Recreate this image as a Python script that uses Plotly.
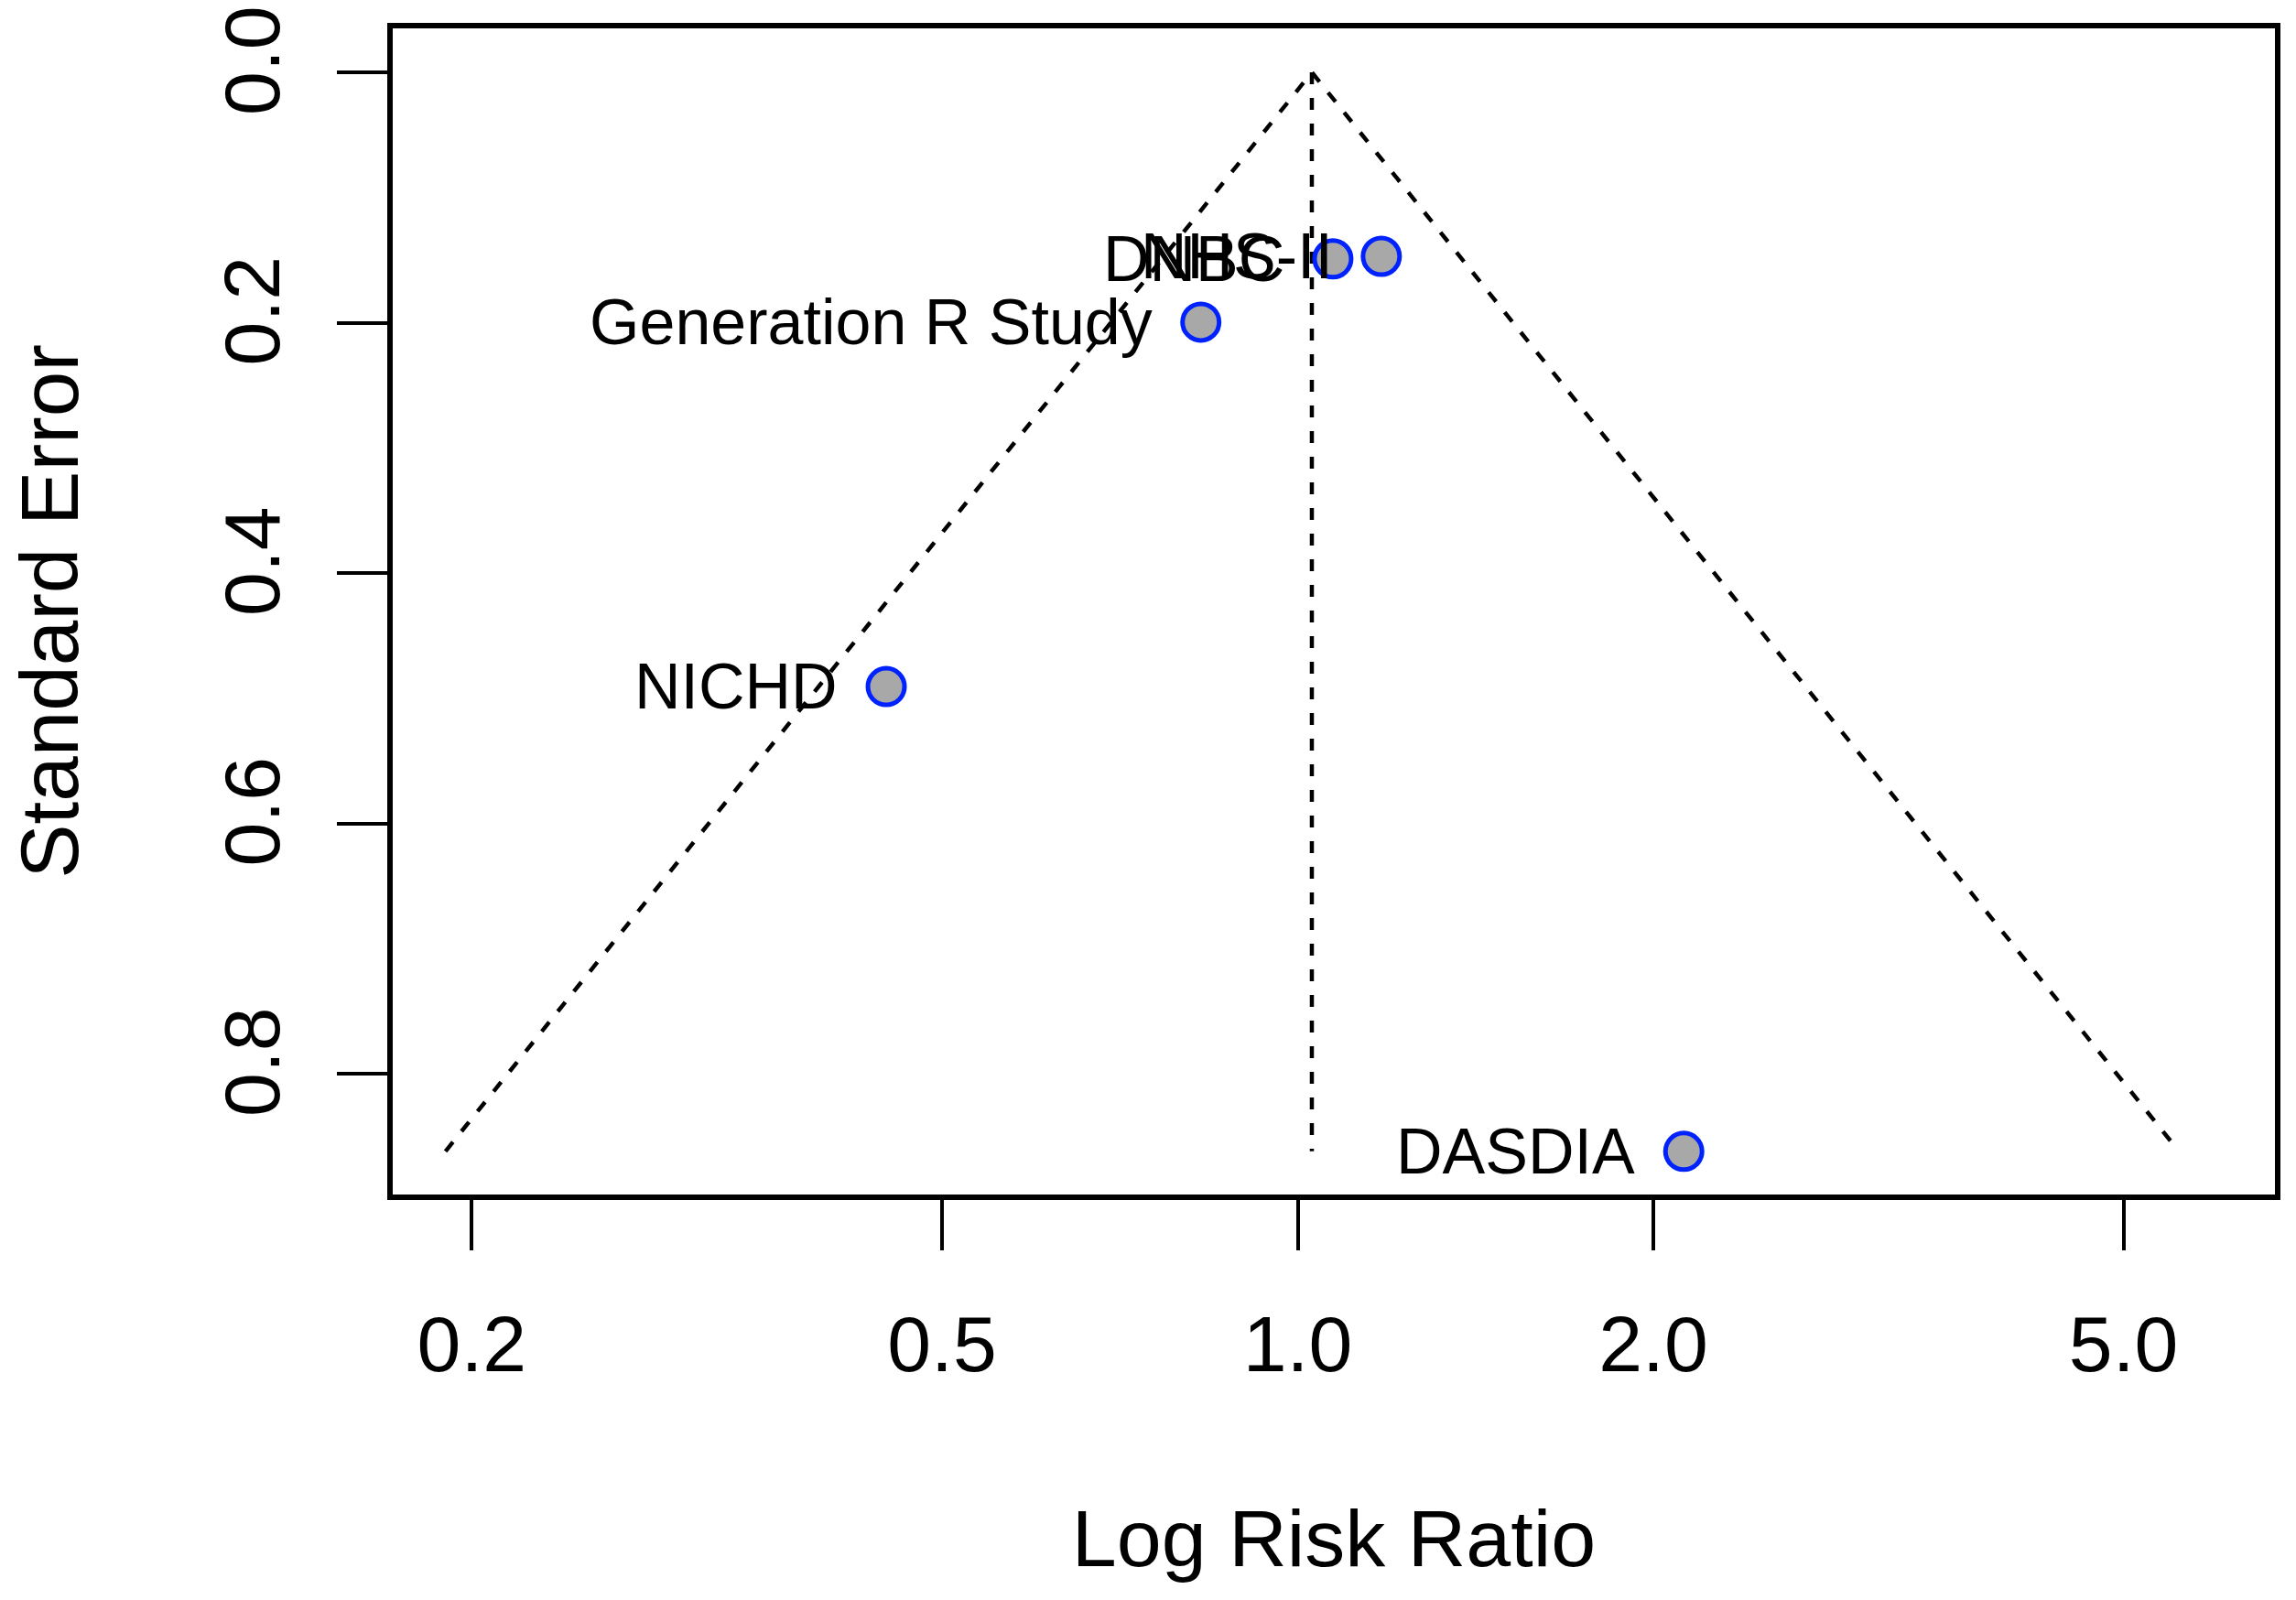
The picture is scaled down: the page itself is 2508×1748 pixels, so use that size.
import math
import plotly.graph_objects as go

# Study data
studies = ["DNBC", "NHS-II", "Generation R Study", "NICHD", "DASDIA"]
risk_ratio = [1.071, 1.177, 0.828, 0.4485, 2.122]
std_error = [0.149, 0.147, 0.1996, 0.4907, 0.862]

# Funnel (pseudo-confidence region) corners
funnel_rr = [0.190, 1.028, 5.57]
funnel_se = [0.862, 0.0, 0.862]
center_rr = [1.028, 1.028]
center_se = [0.0, 0.862]

x_tick_vals = [0.2, 0.5, 1.0, 2.0, 5.0]
x_tick_text = ["0.2", "0.5", "1.0", "2.0", "5.0"]
y_tick_vals = [0.0, 0.2, 0.4, 0.6, 0.8]
y_tick_text = ["0.0", "0.2", "0.4", "0.6", "0.8"]

FONT = "Liberation Sans, Arial, Helvetica, sans-serif"

fig = go.Figure()

fig.add_trace(go.Scatter(
    x=funnel_rr, y=funnel_se, mode="lines",
    line=dict(color="black", width=4.5, dash="13px,15px"),
    hoverinfo="skip", showlegend=False))
fig.add_trace(go.Scatter(
    x=center_rr, y=center_se, mode="lines",
    line=dict(color="black", width=4.5, dash="13px,15px"),
    hoverinfo="skip", showlegend=False))

fig.add_trace(go.Scatter(
    x=risk_ratio, y=std_error, mode="markers",
    marker=dict(size=40, color="#a8a8a8", line=dict(color="#0022ff", width=5)),
    text=studies, showlegend=False))

for name, rr, se in zip(studies, risk_ratio, std_error):
    fig.add_annotation(
        x=math.log10(rr), y=se, xref="x", yref="y",
        text=name, showarrow=False, xanchor="right", yanchor="middle",
        xshift=-51, font=dict(family=FONT, size=70, color="black"))

fig.update_layout(
    width=2508, height=1748,
    margin=dict(l=429, r=23, t=31, b=443, autoexpand=False),
    paper_bgcolor="white", plot_bgcolor="white",
    font=dict(family=FONT, color="black"),
    showlegend=False,
)

fig.update_xaxes(
    type="log",
    range=[-0.7659, 0.8271],
    tickvals=x_tick_vals, ticktext=x_tick_text,
    ticks="outside", ticklen=55, tickwidth=4, tickcolor="black",
    ticklabelstandoff=29, ticklabeloverflow="allow",
    tickfont=dict(family=FONT, size=86, color="black"),
    showline=True, linecolor="black", linewidth=5.5, mirror=True,
    showgrid=False, zeroline=False, automargin=False,
    title=dict(text="Log Risk Ratio", font=dict(family=FONT, size=88, color="black"), standoff=136),
)
fig.update_yaxes(
    range=[0.8965, -0.0351],
    tickvals=y_tick_vals, ticktext=y_tick_text,
    ticks="outside", ticklen=55, tickwidth=4, tickcolor="black",
    tickangle=-90,
    ticklabelstandoff=29, ticklabeloverflow="allow",
    tickfont=dict(family=FONT, size=86, color="black"),
    showline=True, linecolor="black", linewidth=5.5, mirror=True,
    showgrid=False, zeroline=False, automargin=False,
    title=dict(text="Standard Error", font=dict(family=FONT, size=89, color="black"), standoff=114),
)

fig.write_html("out.html", config={"displayModeBar": False},
               post_script="document.body.style.margin='0px';")
